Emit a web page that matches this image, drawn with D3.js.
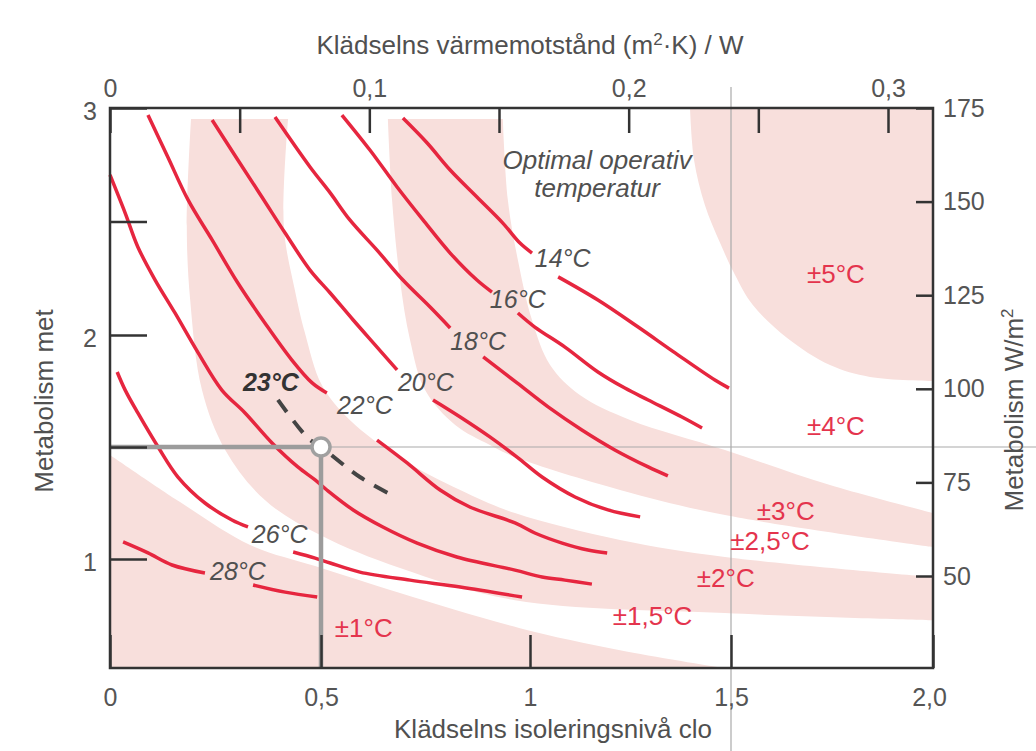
<!DOCTYPE html>
<html><head><meta charset="utf-8">
<script src="https://cdn.jsdelivr.net/npm/d3@7"></script>
<style>
body{margin:0;background:#fff;}
svg{display:block;font-family:"Liberation Sans",Arial,Helvetica,sans-serif;}
</style></head><body>
<svg id="chart" width="1036" height="751"></svg>
<script>
// ---------- DATA (clo, met) ----------
const cloTicks = [0, 0.5, 1, 1.5, 2];
const cloTickLabels = ["0", "0,5", "1", "1,5", "2,0"];
const metTicks = [1, 1.5, 2, 2.5, 3];
const metTickLabels = ["1", "", "2", "", "3"];
const wTicks = [50, 75, 100, 125, 150, 175];
const wTickLabels = ["50", "75", "100", "125", "150", "175"];
const rTicks = [0, 0.05, 0.1, 0.15, 0.2, 0.25, 0.3];
const rTickLabels = ["0", "", "0,1", "", "0,2", "", "0,3"];
const metMin = 0.51, metMax = 3, cloMax = 2;

// isotherms: each is a list of segments of [clo, met]
const iso14 = [[[0.696,2.956],[0.754,2.846],[0.809,2.727],[0.873,2.608],[0.935,2.493],[0.976,2.405],[1.005,2.361]],
               [[1.070,2.256],[1.169,2.154],[1.269,2.035],[1.361,1.920],[1.460,1.799],[1.495,1.763]]];
const iso16 = [[[0.550,2.969],[0.617,2.815],[0.682,2.652],[0.744,2.507],[0.809,2.361],[0.873,2.242],[0.909,2.189]],
               [[0.971,2.097],[1.012,2.035],[1.087,1.946],[1.169,1.835],[1.236,1.763],[1.294,1.710],[1.378,1.634],[1.428,1.585]]];
const iso18 = [[[0.391,2.960],[0.474,2.740],[0.522,2.626],[0.569,2.507],[0.634,2.374],[0.696,2.242],[0.761,2.123],[0.809,2.031]],
               [[0.888,1.902],[0.969,1.786],[1.045,1.679],[1.129,1.576],[1.211,1.487],[1.294,1.411],[1.343,1.371]]];
const iso20 = [[[0.242,2.947],[0.303,2.771],[0.360,2.608],[0.415,2.449],[0.474,2.286],[0.522,2.185],[0.577,2.066],[0.634,1.946],[0.682,1.844]],
               [[0.768,1.710],[0.833,1.634],[0.904,1.545],[0.969,1.455],[1.030,1.366],[1.112,1.277],[1.194,1.219],[1.274,1.188]]];
const iso22 = [[[0.090,2.969],[0.137,2.784],[0.185,2.595],[0.242,2.419],[0.303,2.229],[0.367,2.053],[0.431,1.888],[0.479,1.786],[0.514,1.741]],
               [[0.634,1.531],[0.706,1.429],[0.785,1.308],[0.856,1.232],[0.964,1.161],[1.012,1.116],[1.080,1.071],[1.144,1.040],[1.192,1.027]]];
const iso24 = [[[0.000,2.705],[0.036,2.537],[0.066,2.388],[0.107,2.242],[0.154,2.097],[0.209,1.920],[0.265,1.754],[0.320,1.652],[0.384,1.518],
                [0.445,1.411],[0.486,1.353],[0.514,1.308],[0.577,1.219],[0.648,1.143],[0.730,1.071],[0.825,1.009],[0.964,0.950],[1.030,0.919],[1.087,0.905],[1.154,0.887]]];
const iso26 = [[[0.017,1.835],[0.036,1.754],[0.066,1.652],[0.114,1.500],[0.161,1.366],[0.225,1.250],[0.289,1.174],[0.327,1.143]],
               [[0.434,1.031],[0.486,1.004],[0.522,0.982],[0.593,0.941],[0.713,0.905],[0.833,0.874],[0.981,0.829]]];
const iso28 = [[[0.031,1.076],[0.090,1.027],[0.147,0.973],[0.225,0.937]],
               [[0.339,0.883],[0.415,0.851],[0.491,0.829]]];
const isothermLabels = ["14°C", "16°C", "18°C", "20°C", "22°C", "", "26°C", "28°C"];
const isothermLabelPos = [[1.012,2.300],[0.904,2.119],[0.809,1.933],[0.684,1.750],[0.538,1.647],null,[0.336,1.071],[0.237,0.905]];

// optimum 23 °C (dashed) and design point
const optimum23 = [[0.398,1.710],[0.469,1.540],[0.5,1.5],[0.593,1.366],[0.660,1.295]];
const optimumLabel = "23°C";
const optimumLabelPos = [0.315, 1.750];
const designPoint = [0.5, 1.5];

// tolerance band boundaries
const b1 = [[0,1.464],[0.166,1.254],[0.332,1.063],[0.486,0.968],[0.689,0.847],[0.976,0.689],[1.224,0.590],[1.485,0.509]];
const b2 = [[0.192,2.952],[0.182,2.476],[0.190,2.154],[0.218,1.754],[0.273,1.487],[0.367,1.263],[0.498,1.107],[0.689,0.959],[0.964,0.815],[1.485,0.757],[2.0,0.725]];
const b3 = [[0.422,2.952],[0.412,2.476],[0.438,2.198],[0.462,2.009],[0.502,1.777],[0.569,1.621],[0.689,1.451],[0.833,1.308],[0.964,1.205],[1.224,1.085],[1.485,1.009],[2.0,0.919]];
const b4 = [[0.660,2.952],[0.670,2.595],[0.689,2.242],[0.713,1.978],[0.749,1.754],[0.821,1.598],[0.904,1.509],[0.964,1.455],[1.224,1.308],[1.485,1.196],[2.0,1.054]];
const b5 = [[0.935,2.952],[0.947,2.595],[0.971,2.330],[1.005,2.066],[1.050,1.866],[1.124,1.732],[1.249,1.621],[1.485,1.487],[1.745,1.330],[2.0,1.205]];
const b6 = [[1.398,3.0],[1.408,2.771],[1.435,2.573],[1.473,2.405],[1.510,2.264],[1.554,2.132],[1.639,1.987],[1.745,1.866],[1.844,1.813],[2.0,1.795]];
const toleranceLabels = ["±1°C", "±1,5°C", "±2°C", "±2,5°C", "±3°C", "±4°C", "±5°C"];
const toleranceLabelPos = [[0.533,0.649],[1.206,0.703],[1.415,0.874],[1.498,1.040],[1.564,1.174],[1.688,1.554],[1.688,2.229]];

const noteLines = ["Optimal operativ", "temperatur"];
const notePos = [[1.167,2.731],[1.167,2.608]];

// ---------- SCALES ----------
const x = d3.scaleLinear().domain([0, 0.5, 1, 1.5, 2]).range([110, 321, 530, 731, 933]);
const y = d3.scaleLinear().domain([metMin, 1, 2, 3]).range([668, 559, 335, 108]);
const xTop = d3.scaleLinear().domain([0, 0.3]).range([110, 888]);
const yW = d3.scaleLinear().domain([50, 175]).range([576, 108]);

const RED = "#e6263f", RED_TXT = "#e4344d", PINK = "#f8dfdc", DARK = "#333", TXT = "#505050";
const FONT = '"Liberation Sans", Arial, Helvetica, sans-serif';

const svg = d3.select("#chart");
const X0 = x(0), X1 = x(cloMax), Y0 = y(metMin), Y1 = y(metMax);

svg.append("defs").append("clipPath").attr("id", "clip")
  .append("rect").attr("x", X0).attr("y", Y1).attr("width", X1 - X0).attr("height", Y0 - Y1);

const line = d3.line().x(d => x(d[0])).y(d => y(d[1])).curve(d3.curveCatmullRom.alpha(0.5));
const ribbon = (a, b) => line(a) + line(b.slice().reverse()).replace(/^M/, "L") + "Z";
const corner = (a, pt) => line(a) + `L${x(pt[0])},${y(pt[1])}Z`;

// bands
svg.append("g").attr("clip-path", "url(#clip)")
  .selectAll("path")
  .data([corner(b1, [0, metMin]), ribbon(b2, b3), ribbon(b4, b5), corner(b6, [cloMax, metMax])])
  .join("path").attr("d", d => d).attr("fill", PINK);

// thin reference lines
svg.append("line").attr("x1", X0).attr("x2", 1036).attr("y1", y(designPoint[1])).attr("y2", y(designPoint[1]))
  .attr("stroke", "#aaa").attr("stroke-width", 1.2);
svg.append("line").attr("x1", x(1.5)).attr("x2", x(1.5)).attr("y1", 87).attr("y2", 751)
  .attr("stroke", "#aaa").attr("stroke-width", 1.2);

// isotherm curves
const isos = [iso14, iso16, iso18, iso20, iso22, iso24, iso26, iso28];
const gc = svg.append("g");
isos.forEach(segs => {
  gc.selectAll(null).data(segs).join("path")
    .attr("d", line).attr("fill", "none").attr("stroke", RED).attr("stroke-width", 3.5);
});

// optimum dashed line
svg.append("path").attr("d", line(optimum23)).attr("fill", "none")
  .attr("stroke", "#444").attr("stroke-width", 4).attr("stroke-dasharray", "15,11");

// thick grey design lines
svg.append("line").attr("x1", X0).attr("x2", x(designPoint[0])).attr("y1", y(designPoint[1])).attr("y2", y(designPoint[1]))
  .attr("stroke", "#9c9c9c").attr("stroke-width", 4.5);
svg.append("line").attr("x1", x(designPoint[0])).attr("x2", x(designPoint[0])).attr("y1", y(designPoint[1])).attr("y2", Y0)
  .attr("stroke", "#9c9c9c").attr("stroke-width", 4.5);
svg.append("circle").attr("cx", x(designPoint[0])).attr("cy", y(designPoint[1])).attr("r", 9)
  .attr("fill", "#fff").attr("stroke", "#a0a0a0").attr("stroke-width", 3.5);

// frame
svg.append("rect").attr("x", X0).attr("y", Y1).attr("width", X1 - X0).attr("height", Y0 - Y1)
  .attr("fill", "none").attr("stroke", DARK).attr("stroke-width", 2.5);

function styleAxis(g) {
  g.attr("font-size", null).attr("font-family", null);
  g.select(".domain").remove();
  g.selectAll(".tick line").attr("stroke", DARK).attr("stroke-width", 2.5);
  g.selectAll(".tick text").attr("fill", "#555").attr("font-size", 25).attr("font-family", FONT);
}
// bottom
const gB = svg.append("g").attr("transform", `translate(0,${Y0})`)
  .call(d3.axisBottom(x).tickValues(cloTicks).tickFormat((d, i) => cloTickLabels[i]).tickSize(-33));
styleAxis(gB); gB.selectAll(".tick text").attr("y", 38).attr("dy", 0);
gB.selectAll(".tick text").filter(d => d === cloMax).attr("dx", -4);
// left
const gL = svg.append("g").attr("transform", `translate(${X0},0)`)
  .call(d3.axisLeft(y).tickValues(metTicks).tickFormat((d, i) => metTickLabels[i]).tickSize(-37));
styleAxis(gL); gL.selectAll(".tick text").attr("x", -13).attr("dy", 11);
// right
const gR = svg.append("g").attr("transform", `translate(${X1},0)`)
  .call(d3.axisRight(yW).tickValues(wTicks).tickFormat((d, i) => wTickLabels[i]).tickSize(-17));
styleAxis(gR); gR.selectAll(".tick text").attr("x", 10).attr("dy", 8);
// top
const gT = svg.append("g").attr("transform", `translate(0,${Y1})`)
  .call(d3.axisTop(xTop).tickValues(rTicks).tickFormat((d, i) => rTickLabels[i]).tickSize(-25));
styleAxis(gT); gT.selectAll(".tick text").attr("y", -11).attr("dy", 0);

// axis titles
svg.append("text").attr("x", 530).attr("y", 54).attr("text-anchor", "middle")
  .attr("font-size", 26).attr("fill", TXT)
  .call(t => {
    t.append("tspan").text("Klädselns värmemotstånd (m");
    t.append("tspan").attr("font-size", 17).attr("dy", -9).text("2");
    t.append("tspan").attr("dy", 9).text("·K) / W");
  });
svg.append("text").attr("x", 553).attr("y", 738).attr("text-anchor", "middle")
  .attr("font-size", 26).attr("fill", TXT).text("Klädselns isoleringsnivå clo");
svg.append("text").attr("transform", "translate(53,401) rotate(-90)").attr("text-anchor", "middle")
  .attr("font-size", 26).attr("fill", TXT).text("Metabolism met");
svg.append("text").attr("transform", "translate(1023,410) rotate(-90)").attr("text-anchor", "middle")
  .attr("font-size", 26).attr("fill", TXT)
  .call(t => {
    t.append("tspan").text("Metabolism W/m");
    t.append("tspan").attr("font-size", 17).attr("dy", -10).text("2");
  });

// isotherm labels
svg.append("g").selectAll("text")
  .data(isothermLabels.map((s, i) => ({ s, p: isothermLabelPos[i] })).filter(d => d.p))
  .join("text").attr("x", d => x(d.p[0])).attr("y", d => y(d.p[1]))
  .attr("font-size", 25).attr("font-style", "italic").attr("fill", TXT).text(d => d.s);
svg.append("text").attr("x", x(optimumLabelPos[0])).attr("y", y(optimumLabelPos[1]))
  .attr("font-size", 25).attr("font-style", "italic").attr("font-weight", "bold").attr("fill", "#333").text(optimumLabel);

// tolerance labels
svg.append("g").selectAll("text")
  .data(toleranceLabels.map((s, i) => ({ s, p: toleranceLabelPos[i] })))
  .join("text").attr("x", d => x(d.p[0])).attr("y", d => y(d.p[1]))
  .attr("font-size", 26).attr("fill", RED_TXT).text(d => d.s);

// note
svg.append("g").selectAll("text").data(noteLines.map((s, i) => ({ s, p: notePos[i] })))
  .join("text").attr("x", d => x(d.p[0])).attr("y", d => y(d.p[1])).attr("text-anchor", "middle")
  .attr("font-size", 26).attr("font-style", "italic").attr("fill", TXT).text(d => d.s);
</script>
</body></html>
